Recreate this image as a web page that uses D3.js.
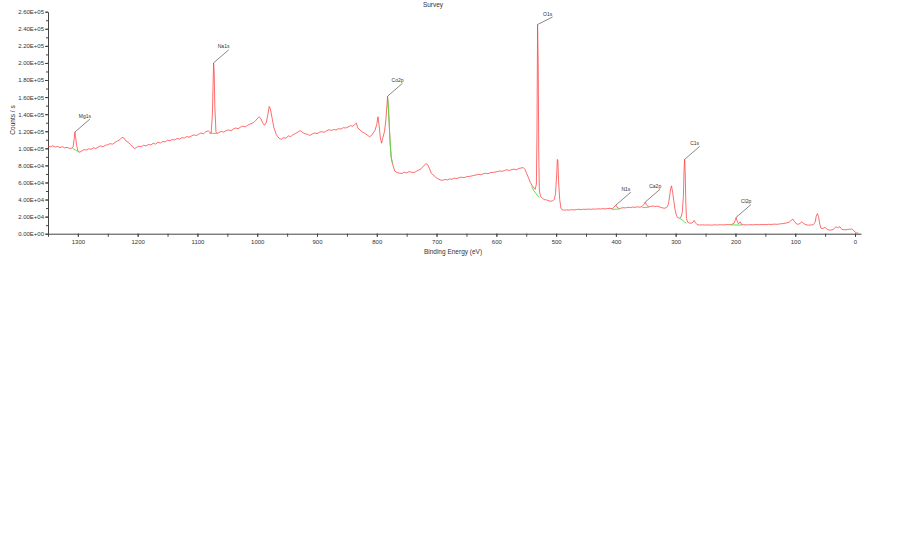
<!DOCTYPE html>
<html>
<head>
<meta charset="utf-8">
<script src="https://cdn.jsdelivr.net/npm/d3@7"></script>
<style>
  html, body { margin: 0; padding: 0; background: #fff; }
  svg { display: block; font-family: "Liberation Sans", Arial, sans-serif; }
</style>
</head>
<body>
<svg id="chart" width="900" height="546"></svg>
<script>
// ---------------- DATA ----------------
const title = "Survey";
const xLabel = "Binding Energy (eV)";
const yLabel = "Counts / s";
const xTicks = [1300, 1200, 1100, 1000, 900, 800, 700, 600, 500, 400, 300, 200, 100, 0];
const yTicks = [0, 20000, 40000, 60000, 80000, 100000, 120000, 140000, 160000, 180000, 200000, 220000, 240000, 260000];

// [binding energy (eV), counts / s]
const spectrum = [
  [1350,102500],[1346,101800],[1342,103000],[1338,101500],[1334,102200],[1330,100800],[1326,101900],
  [1322,100500],[1318,101200],[1314,99800],[1310,100200],[1308,101500],[1306,112000],[1305,119000],
  [1304,114000],[1302,103000],[1300,97000],[1297,95500],[1294,96500],[1290,98500],[1286,98000],
  [1282,99500],[1278,98800],[1274,100500],[1270,99800],[1266,101500],[1262,102800],[1258,101900],
  [1254,103500],[1250,104200],[1246,105500],[1242,104800],[1238,106800],[1234,108500],[1230,110000],
  [1226,113000],[1223,112000],[1220,109000],[1216,107000],[1212,104500],[1208,101500],[1205,99500],
  [1202,101000],[1198,102500],[1194,101800],[1190,103500],[1186,102800],[1182,104500],[1178,104000],
  [1174,105800],[1170,105000],[1166,107000],[1162,106200],[1158,108000],[1154,107500],[1150,109500],
  [1146,108800],[1142,110500],[1138,109800],[1134,111500],[1130,110800],[1126,112500],[1122,112000],
  [1118,113800],[1114,113000],[1110,114500],[1106,115800],[1102,115000],[1098,116500],[1094,118000],
  [1090,117000],[1086,119500],[1082,120500],[1079,118500],[1077,118000],[1075,140000],[1073,200000],
  [1072,190000],[1071,150000],[1069,119000],[1067,117500],[1064,118500],[1060,119800],[1056,119000],
  [1052,120800],[1048,121500],[1044,120500],[1040,122500],[1036,123800],[1032,123000],[1028,124800],
  [1024,126000],[1020,125200],[1016,127000],[1012,128500],[1008,129500],[1004,131500],[1000,134500],
  [997,137000],[994,135000],[991,130000],[988,127000],[985,130000],[982,140000],[980,149000],
  [978,146000],[975,135000],[972,124000],[968,116000],[964,112000],[960,110500],[956,112500],
  [952,111800],[948,114500],[944,113800],[940,116000],[936,117500],[932,119000],[928,120800],
  [924,118500],[920,117000],[916,116500],[912,115000],[908,116800],[904,118000],[900,117200],
  [896,118800],[892,119500],[888,118800],[884,120500],[880,121800],[876,121000],[872,122000],
  [868,121500],[864,123000],[860,122500],[856,124200],[852,123800],[848,125000],[844,126500],
  [840,125800],[837,128000],[834,129500],[832,124000],[828,121500],[824,119000],[820,117500],
  [816,115500],[812,113500],[809,115000],[806,118000],[803,121000],[800,128000],[798,137000],
  [796,126000],[794,112000],[792,106000],[790,112000],[787,120000],[785,132000],[783,150000],
  [782,161000],[780,140000],[778,110000],[776,90000],[774,83000],[772,78000],[770,73500],
  [766,71500],[762,71000],[758,70500],[754,72000],[750,71200],[746,72800],[742,72000],[738,71500],
  [734,73000],[730,74500],[726,76000],[722,79000],[718,82000],[715,81000],[712,76500],[709,71000],
  [706,69000],[702,66500],[698,64500],[694,63000],[690,62500],[686,63500],[682,63000],[678,64200],
  [674,63800],[670,65000],[666,64500],[662,65800],[658,66200],[654,65500],[650,66800],[646,67000],
  [642,67500],[638,68200],[634,68800],[630,69500],[626,69000],[622,70200],[618,70800],[614,70200],
  [610,71500],[606,71800],[602,72200],[598,72800],[594,73500],[590,73000],[586,74200],[582,74800],
  [578,74000],[574,75200],[570,75500],[566,75000],[562,76500],[558,77000],[555,77500],[552,75000],
  [549,70000],[546,65000],[543,60000],[540,56000],[537,54000],[535,52000],[533,58000],[532,120000],
  [531,245000],[530,200000],[529,90000],[528,50000],[526,43500],[523,41500],[520,40000],[516,39500],
  [512,38500],[509,38000],[506,38500],[503,40000],[501,47000],[499,70000],[498,87000],[497,85000],
  [496,62000],[494,40000],[492,30000],[490,28000],[486,27500],[482,28000],[478,27600],[474,28200],
  [470,27800],[466,28300],[462,28600],[458,28200],[454,28700],[450,28400],[446,28900],[442,28500],
  [438,29000],[434,28700],[430,29200],[426,28900],[422,29400],[418,29000],[414,29500],[410,29700],
  [406,29400],[403,31000],[400,33500],[398,31000],[395,29500],[392,29800],[388,30500],[384,30200],
  [380,31000],[376,30600],[372,31200],[368,30800],[364,31500],[360,31000],[356,32000],[353,34500],
  [351,37000],[349,34000],[346,31500],[342,31800],[338,32500],[334,31800],[330,32300],[326,31000],
  [322,30200],[318,29800],[314,31500],[312,35000],[310,45000],[308,54000],[307,56000],[305,48000],
  [303,38000],[301,28000],[299,22000],[297,19000],[294,18000],[291,19500],[289,25000],[287,45000],
  [286,75000],[285,87000],[284,70000],[283,35000],[282,18000],[280,13500],[277,12500],[274,12200],
  [271,13500],[269,15500],[267,13000],[264,10500],[260,10200],[255,10400],[250,10100],[245,10300],
  [240,10000],[235,10400],[230,10200],[225,10500],[220,10300],[215,10700],[210,10500],[206,10900],
  [202,12500],[200,17000],[199,19000],[197,14500],[195,11500],[192,14000],[190,11000],[186,10300],
  [182,10500],[178,10300],[174,10600],[170,10400],[165,10700],[160,10500],[155,10800],[150,10600],
  [145,11000],[140,10800],[135,11200],[130,11000],[125,11500],[120,12000],[115,12500],[110,13500],
  [107,15500],[104,17000],[101,14000],[98,11500],[95,11000],[92,12000],[89,14000],[86,12000],
  [82,10500],[78,10000],[74,10200],[70,10500],[67,13000],[65,20000],[63,23500],[61,20000],
  [59,11000],[57,6500],[55,6000],[52,6800],[50,7500],[48,6000],[45,4500],[42,4200],[39,4500],
  [36,5000],[33,7500],[31,8000],[29,6500],[27,8200],[25,7800],[22,5000],[19,4800],[15,4500],
  [12,5000],[9,5200],[6,5500],[4,5000],[2,3500],[0,2000],[-3,800],[-6,500]
];

// peak backgrounds (green)
const backgrounds = [
  [[1309,100000],[1303,97500],[1297,95300]],
  [[1080,117500],[1066,117500]],
  [[781.5,158000],[780,140000],[778,110000],[776,90000],[774,83000]],
  [[541,55500],[537,50000],[533,46500],[530,43500],[528,42600]],
  [[407,28500],[393,29000]],
  [[356,30500],[345,31000]],
  [[293,18000],[289,16000],[285,13500],[282,12200]],
  [[208,10300],[189,10100]]
];

// peak labels
const peakNames  = ["Mg1s", "Na1s", "Co2p", "O1s", "N1s", "Ca2p", "C1s", "Cl2p"];
const peakBE     = [1305, 1073, 782, 531, 400, 351, 285, 199];
const peakCounts = [119000, 200000, 161000, 245000, 33500, 37000, 87000, 19000];

// ---------------- CHART ----------------
const svg = d3.select("#chart");
const x = d3.scaleLinear().domain([1350, -10]).range([48, 861]);
const y = d3.scaleLinear().domain([0, 260000]).range([233.7, 11.7]);

const fmtE = d => {
  const [m, e] = d.toExponential(2).split("e");
  const sign = e[0] === "-" ? "-" : "+";
  const ex = String(Math.abs(+e)).padStart(2, "0");
  return m + "E" + sign + ex;
};

// minor ticks
svg.append("g").attr("transform", `translate(48,0)`)
  .call(d3.axisLeft(y).tickValues(d3.range(0, 260001, 10000)).tickSize(2).tickFormat(""))
  .call(g => g.select(".domain").remove())
  .call(g => g.selectAll("line").attr("stroke", "#444"));
svg.append("g").attr("transform", `translate(0,233.7)`)
  .call(d3.axisBottom(x).tickValues(d3.range(1350, -1, -50)).tickSize(3).tickFormat(""))
  .call(g => g.select(".domain").remove())
  .call(g => g.selectAll("line").attr("stroke", "#444"));

// y axis
const yAx = svg.append("g").attr("transform", `translate(48,0)`)
  .call(d3.axisLeft(y).tickValues(yTicks).tickSize(3).tickPadding(1).tickFormat(fmtE).tickSizeOuter(0));
yAx.selectAll("text").attr("font-size", 6).attr("fill", "#333").attr("font-family", "Liberation Sans, Arial, sans-serif");
yAx.selectAll("line,path").attr("stroke", "#444");

// x axis
const xAx = svg.append("g").attr("transform", `translate(0,233.7)`)
  .call(d3.axisBottom(x).tickValues(xTicks).tickSize(3).tickPadding(3).tickFormat(d3.format("d")).tickSizeOuter(0));
xAx.selectAll("text").attr("font-size", 6).attr("fill", "#333").attr("font-family", "Liberation Sans, Arial, sans-serif");
xAx.selectAll("line,path").attr("stroke", "#444");

// labels
svg.append("text").attr("x", 433).attr("y", 6.5).attr("text-anchor", "middle")
  .attr("font-size", 6.5).attr("fill", "#333").text(title);
svg.append("text").attr("x", 453).attr("y", 254).attr("text-anchor", "middle")
  .attr("font-size", 6.5).attr("fill", "#333").text(xLabel);
svg.append("text").attr("transform", "translate(15,120) rotate(-90)").attr("text-anchor", "middle")
  .attr("font-size", 6.5).attr("fill", "#333").text(yLabel);

// spectrum
const line = d3.line().x(d => x(d[0])).y(d => y(d[1]));
svg.append("path").datum(spectrum).attr("d", line)
  .attr("fill", "none").attr("stroke", "#ff3b3b").attr("stroke-width", 0.75);

// backgrounds
svg.selectAll("path.bg").data(backgrounds).join("path").attr("class", "bg")
  .attr("d", line).attr("fill", "none").attr("stroke", "#3ce63c").attr("stroke-width", 0.9);

// annotations
peakNames.forEach((name, i) => {
  const px = x(peakBE[i]), py = y(peakCounts[i]);
  const ex = px + 15, ey = Math.max(py - 13, 17);
  svg.append("line").attr("x1", px).attr("y1", py).attr("x2", ex).attr("y2", ey)
    .attr("stroke", "#555").attr("stroke-width", 0.7);
  svg.append("text").attr("x", ex - 5).attr("y", ey - 1.5).attr("text-anchor", "middle")
    .attr("font-size", 5).attr("fill", "#333").text(name);
});
</script>
</body>
</html>
